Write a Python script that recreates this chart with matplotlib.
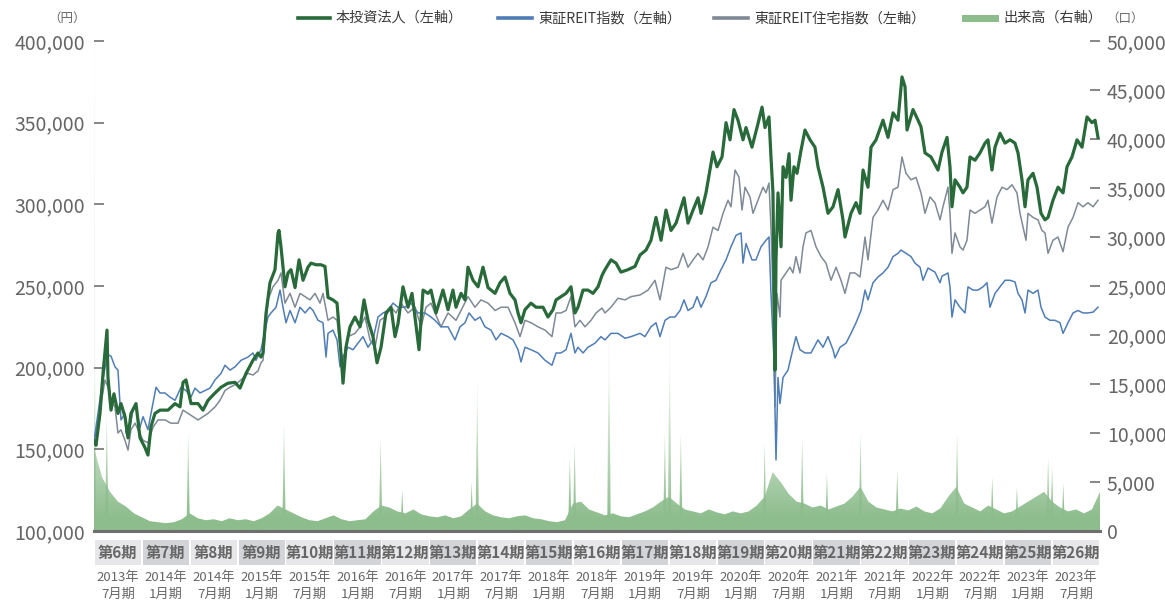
import matplotlib
matplotlib.use("Agg")
import matplotlib.pyplot as plt
import numpy as np
from matplotlib.lines import Line2D
from matplotlib.patches import Rectangle
from matplotlib.colors import to_rgb

plt.rcParams['font.family'] = ['Noto Sans CJK JP', 'DejaVu Sans']

# ---------------- data (time axis: months since Feb 2013) ----------------
fund_m = [0, 0.25, 0.75, 1.13, 1.63, 1.75, 2.13, 2.5, 3.0, 3.38,
          3.88, 4.26, 4.63, 5.26, 5.76, 6.39, 6.76, 7.14, 7.64, 8.27,
          9.27, 10.15, 10.77, 11.15, 11.52, 12.15, 13.03, 13.65, 14.28, 15.16,
          15.91, 16.78, 17.66, 18.29, 19.04, 19.91, 20.54, 20.92, 21.17, 21.54,
          22.04, 22.67, 23.05, 23.17, 23.42, 23.92, 24.3, 24.67, 25.18, 25.68,
          26.18, 26.8, 27.18, 27.81, 28.43, 28.93, 29.31, 29.93, 30.44, 30.81,
          31.19, 31.56, 32.06, 32.69, 33.32, 33.82, 34.32, 34.94, 35.45, 35.95,
          36.57, 37.2, 37.7, 38.08, 38.7, 39.33, 39.83, 40.71, 41.21, 41.83,
          42.21, 42.84, 43.71, 44.34, 44.96, 45.34, 45.97, 46.47, 46.84, 47.47,
          48.1, 48.72, 49.35, 50.23, 50.85, 51.48, 52.1, 52.73, 53.11, 53.48,
          53.98, 54.73, 55.36, 56.24, 56.86, 57.49, 57.87, 58.49, 59.12, 59.74,
          60.24, 60.62, 61.25, 61.87, 62.5, 63.13, 63.63, 64.0, 64.75, 65.38,
          66.0, 66.88, 67.76, 68.39, 69.14, 69.76, 70.39, 71.02, 71.64, 72.27,
          72.9, 73.9, 74.4, 75.03, 75.65, 76.03, 76.65, 77.15, 77.53, 78.03,
          78.66, 79.16, 79.66, 80.16, 80.66, 81.29, 81.66, 82.41, 83.04, 83.67,
          84.04, 84.54, 84.79, 85.04, 85.29, 85.42, 85.67, 86.05, 86.3, 86.67,
          87.05, 87.3, 87.67, 88.05, 88.55, 89.05, 89.68, 90.3, 90.68, 91.31,
          91.93, 92.56, 93.19, 93.81, 94.06, 94.81, 95.44, 95.94, 96.32, 96.94,
          97.32, 97.95, 98.82, 99.45, 100.08, 100.7, 101.2, 101.58, 101.83, 102.58,
          103.21, 103.58, 104.08, 104.83, 105.71, 106.21, 106.84, 107.21, 107.46, 107.84,
          108.46, 108.84, 109.34, 109.72, 110.34, 110.97, 111.6, 111.97, 112.47, 112.85,
          113.48, 114.1, 114.73, 115.35, 115.73, 116.23, 116.61, 116.98, 117.61, 118.11,
          118.61, 119.11, 119.49, 120.11, 120.74, 121.37, 121.87, 122.49, 123.12, 123.75,
          124.37, 125.0, 125.38, 125.75]
fund_price = [155000, 152500, 172000, 196500, 223000, 194000, 174000, 184000, 172000, 178000,
              170000, 157000, 172000, 178000, 157000, 151000, 146500, 164000, 172000, 174000,
              174000, 178000, 176000, 191000, 192500, 178000, 178000, 174000, 180000, 184500,
              188000, 190500, 191000, 187500, 196500, 204500, 209000, 206500, 209000, 233000,
              252000, 260000, 282500, 284000, 274000, 249500, 258000, 260000, 249000, 266000,
              253500, 261500, 264000, 263000, 263000, 262000, 243000, 241500, 239500, 217000,
              190500, 212500, 225000, 231000, 225000, 241500, 229000, 219000, 203000, 212500,
              233500, 237000, 219000, 227000, 249500, 237000, 245500, 211000, 247500, 245500,
              247500, 233500, 247500, 235500, 247500, 237000, 245500, 241500, 261500, 253500,
              249500, 261500, 249000, 245500, 252000, 255500, 245500, 241500, 233500, 227500,
              235500, 239500, 237000, 237000, 231000, 235500, 241500, 243500, 245500, 249500,
              233500, 237000, 247500, 247500, 245500, 249500, 256500, 260000, 266000, 264000,
              258500, 260000, 262000, 269000, 272000, 278000, 292000, 278000, 296500, 284000,
              288500, 304000, 288500, 296500, 304000, 294500, 307000, 321000, 332000, 323000,
              329000, 350000, 339500, 358000, 351500, 339500, 347000, 335000, 347000, 359500,
              347000, 353500, 329000, 307000, 198500, 266000, 307000, 274000, 323000, 316500,
              331000, 302500, 323000, 319000, 333000, 345500, 339500, 335000, 323000, 310500,
              294500, 298500, 309000, 290500, 280000, 294500, 301000, 294500, 321000, 310500,
              335000, 339500, 351500, 341000, 356000, 351500, 378000, 372000, 345500, 358000,
              351500, 347500, 331500, 329000, 321000, 332000, 341000, 323000, 298500, 315000,
              310500, 307000, 310500, 329000, 327000, 331500, 337500, 339500, 321000, 335000,
              343500, 337500, 339500, 337500, 331500, 315000, 298500, 315000, 319000, 310500,
              294500, 290500, 292000, 302500, 310500, 307000, 323000, 329000, 339500, 335000,
              353500, 350000, 351500, 341000]

reit_m = [0, 0.88, 1.38, 1.75, 2.13, 2.63, 3.0, 3.26, 3.38, 3.88,
          4.0, 4.51, 4.88, 5.26, 5.76, 6.14, 6.76, 7.14, 7.77, 8.27,
          8.89, 9.52, 10.15, 10.9, 11.52, 12.15, 12.65, 13.28, 13.9, 14.53,
          15.16, 15.91, 16.41, 17.03, 17.66, 18.41, 19.29, 19.91, 20.29, 20.92,
          21.17, 21.79, 22.17, 22.8, 23.3, 23.67, 24.05, 24.55, 25.18, 25.8,
          26.43, 27.05, 27.43, 28.06, 28.68, 29.06, 29.31, 29.93, 30.44, 30.81,
          31.19, 31.81, 32.44, 33.07, 33.69, 34.32, 34.94, 35.57, 36.2, 36.82,
          37.45, 38.08, 38.95, 39.7, 40.58, 41.46, 42.21, 42.71, 43.46, 44.34,
          45.21, 45.84, 46.47, 46.97, 47.72, 48.35, 48.97, 49.72, 50.35, 50.98,
          51.85, 52.48, 53.11, 53.48, 53.98, 54.73, 55.61, 56.49, 57.36, 57.87,
          58.49, 59.12, 59.74, 60.24, 60.62, 61.25, 61.87, 62.75, 63.5, 64.0,
          64.75, 65.63, 66.51, 67.26, 68.39, 69.01, 69.76, 70.39, 70.89, 71.52,
          72.14, 72.77, 73.4, 73.9, 74.4, 75.03, 75.53, 76.03, 76.65, 77.28,
          77.9, 78.53, 79.16, 79.78, 80.41, 81.04, 81.29, 81.66, 82.41, 82.91,
          83.54, 84.17, 84.54, 84.79, 85.17, 85.42, 85.67, 85.92, 86.3, 86.92,
          87.3, 87.92, 88.42, 89.05, 89.8, 90.68, 91.31, 91.93, 92.56, 92.81,
          93.44, 94.19, 94.81, 95.44, 96.07, 96.57, 96.94, 97.57, 98.19, 98.82,
          99.45, 100.08, 100.7, 101.08, 101.7, 102.33, 102.83, 103.46, 103.83, 104.46,
          105.33, 105.96, 106.21, 106.96, 107.21, 107.46, 107.84, 108.46, 109.09, 109.47,
          110.09, 110.72, 111.35, 111.85, 112.22, 112.85, 113.48, 114.1, 114.73, 115.35,
          115.73, 116.23, 116.61, 116.98, 117.61, 118.23, 118.61, 119.11, 119.74, 120.36,
          120.99, 121.37, 121.99, 122.62, 123.25, 123.87, 124.5, 125.13, 125.75]
reit_index = [155000, 185000, 200000, 208000, 207000, 200500, 198500, 178000, 168000, 172000,
              160000, 163500, 174000, 176000, 163500, 170000, 162000, 172000, 188000, 184500,
              184500, 182000, 180000, 188000, 186000, 182000, 187500, 184500, 186000, 187500,
              192500, 196500, 201500, 198500, 200500, 204500, 206500, 209000, 204500, 211000,
              217000, 231000, 233500, 237000, 247500, 237000, 227500, 235000, 227500, 237000,
              233500, 237000, 235000, 229000, 227500, 206500, 221000, 223000, 217000, 200500,
              206500, 212500, 211000, 215000, 219000, 212500, 217000, 231000, 233500, 235000,
              239500, 237000, 237000, 239500, 233500, 233500, 231000, 229000, 225000, 225000,
              217000, 225000, 227500, 233500, 229000, 231000, 225000, 223000, 217000, 221000,
              219000, 217000, 211000, 203500, 212500, 211000, 209000, 204500, 201500, 209000,
              209000, 211000, 221000, 209000, 212500, 209000, 212500, 215000, 219000, 217000,
              221000, 221000, 218000, 219000, 221000, 219000, 225000, 227500, 219000, 229000,
              231000, 231000, 235000, 241500, 235000, 237000, 243500, 237000, 243500, 252000,
              253500, 260000, 266000, 274000, 281000, 282500, 264000, 276000, 266000, 266000,
              274000, 278000, 280000, 245500, 204500, 143500, 194000, 178000, 194000, 198500,
              206500, 219000, 211000, 209000, 209000, 217000, 212500, 219000, 211000, 206000,
              212500, 215000, 221000, 227500, 235000, 247500, 241500, 252000, 255500, 258000,
              261500, 268000, 270000, 272000, 270000, 268000, 264000, 261500, 253500, 261000,
              258500, 252000, 256000, 258000, 249500, 231000, 241500, 237000, 233500, 249500,
              247500, 247500, 249500, 252000, 237000, 245500, 249500, 253500, 253500, 252500,
              245500, 241500, 233500, 247500, 245500, 247500, 237000, 231000, 229000, 229000,
              227500, 221000, 227500, 233500, 235000, 233500, 233500, 234000, 237000]

resi_m = [0, 0.88, 1.38, 1.75, 2.13, 2.63, 3.0, 3.38, 3.88, 4.26,
          4.63, 5.14, 5.51, 6.14, 6.76, 7.39, 8.02, 8.89, 9.64, 10.52,
          11.15, 11.77, 12.4, 13.03, 13.65, 14.28, 15.16, 15.78, 16.41, 17.03,
          17.66, 18.41, 19.29, 19.91, 20.54, 20.92, 21.17, 21.79, 22.42, 23.05,
          23.42, 23.92, 24.55, 25.18, 25.8, 26.43, 27.05, 27.68, 28.31, 28.68,
          29.31, 29.93, 30.44, 30.81, 31.19, 31.81, 32.69, 33.32, 33.94, 34.57,
          35.2, 35.82, 36.45, 37.2, 37.83, 38.45, 39.33, 40.21, 40.96, 41.58,
          42.21, 42.71, 43.46, 44.34, 45.34, 45.97, 46.84, 47.72, 48.47, 49.35,
          50.23, 50.98, 51.85, 52.73, 53.36, 53.98, 54.73, 55.61, 56.49, 57.36,
          57.87, 58.49, 59.12, 59.74, 60.24, 60.87, 61.5, 62.25, 62.88, 63.63,
          64.0, 64.75, 65.63, 66.51, 67.26, 68.39, 69.39, 70.26, 70.89, 71.64,
          72.27, 73.15, 73.78, 74.4, 75.03, 75.65, 76.28, 76.91, 77.53, 78.16,
          78.79, 79.41, 79.78, 80.29, 80.79, 81.16, 81.54, 82.16, 82.54, 83.17,
          83.79, 84.17, 84.54, 84.79, 85.04, 85.29, 85.54, 85.92, 86.05, 86.67,
          87.17, 87.55, 87.92, 88.42, 88.8, 89.17, 89.8, 90.43, 91.06, 91.68,
          92.31, 92.94, 93.56, 94.06, 94.69, 95.31, 95.94, 96.57, 96.94, 97.57,
          98.19, 98.82, 99.45, 100.08, 100.7, 101.2, 101.7, 102.33, 102.96, 103.58,
          104.08, 104.71, 105.33, 105.96, 106.33, 106.96, 107.21, 107.46, 107.84, 108.46,
          108.84, 109.34, 109.72, 110.34, 110.97, 111.6, 111.97, 112.47, 113.1, 113.73,
          114.35, 114.98, 115.6, 115.98, 116.36, 116.73, 116.98, 117.61, 118.23, 118.73,
          119.11, 119.49, 120.11, 120.74, 121.37, 121.99, 122.62, 123.25, 123.87, 124.5,
          125.13, 125.75]
resi_index = [155000, 178000, 192500, 188000, 180000, 176000, 160000, 162000, 155500, 149500,
              162000, 166000, 162000, 155500, 154000, 163500, 168000, 168000, 166000, 166000,
              174000, 172000, 170000, 168000, 170000, 172000, 176000, 180000, 186000, 188000,
              189500, 192500, 196500, 195500, 198000, 203000, 204500, 241500, 249500, 253500,
              258000, 239500, 245500, 237000, 245500, 243500, 241500, 245500, 239500, 245500,
              229000, 231000, 229000, 212500, 204500, 219000, 221000, 225000, 231000, 217000,
              212500, 229000, 231000, 237000, 233500, 239500, 233500, 237000, 225000, 237000,
              239500, 233500, 225000, 233500, 229000, 235000, 243500, 237000, 241500, 239500,
              235000, 237000, 237000, 227500, 219000, 229000, 227500, 225000, 223000, 219000,
              233500, 233500, 235000, 243500, 225000, 229000, 225000, 229000, 233500, 236500,
              233500, 237000, 242500, 241500, 243500, 244500, 247500, 253500, 241500, 261500,
              260000, 261500, 270000, 261500, 266000, 270000, 266000, 274000, 286000, 284000,
              294500, 302500, 298500, 321000, 316500, 296500, 310500, 304500, 294500, 302500,
              310500, 307000, 313000, 286000, 245500, 176000, 245500, 231000, 253500, 258000,
              261500, 258000, 268000, 258000, 274000, 282500, 284000, 274000, 268000, 264000,
              253500, 261500, 253500, 245500, 258000, 258000, 255500, 280000, 266000, 292000,
              296500, 302500, 296500, 309000, 310500, 329000, 319000, 315000, 316500, 307000,
              294500, 304500, 301000, 290500, 298500, 310500, 294500, 270000, 282500, 274000,
              272000, 278000, 296500, 294500, 296500, 298500, 302500, 288500, 304500, 310500,
              309000, 312000, 307000, 294500, 286000, 278000, 294500, 292000, 290500, 284000,
              282500, 270000, 278000, 280000, 271000, 286000, 292000, 301000, 298500, 301000,
              298500, 302500]

# monthly trading volume level (units), months 0..126
volume = [8500, 5500, 4000, 3000, 2500, 1800, 1400, 1000, 900, 800,
          900, 1200, 1800, 1300, 1100, 1200, 1000, 1300, 1100, 1200,
          1000, 1300, 1800, 2600, 2200, 1800, 1400, 1100, 1000, 1300,
          1600, 1200, 1000, 1100, 1200, 2000, 2600, 2400, 2000, 1800,
          2200, 1700, 1500, 1400, 1600, 1300, 1500, 2200, 2800, 2000,
          1600, 1400, 1300, 1500, 1600, 1300, 1200, 1000, 900, 1100,
          2800, 3000, 2200, 1900, 1600, 1800, 1500, 1400, 1700, 2000,
          2400, 3000, 3500, 2800, 2200, 2000, 1800, 2200, 1900, 1700,
          2000, 1800, 2000, 2600, 3500, 6000, 5000, 3800, 3000, 2800,
          2400, 2600, 2200, 2500, 2800, 3500, 4500, 3000, 2400, 2200,
          2000, 2300, 2100, 2500, 2000, 1800, 2300, 3500, 4500, 2800,
          2400, 2000, 2600, 2200, 1800, 2000, 2500, 3000, 3500, 4000,
          3000, 2400, 2000, 2200, 1800, 2200, 4000]
volume_m = list(range(len(volume)))
# single-day volume spikes
spike_m = [0.0, 1.6, 11.8, 23.8, 35.9, 38.6, 47.3, 48.0, 59.6, 60.2,
           64.5, 71.5, 72.1, 73.5, 84.0, 88.7, 91.8, 96.0, 100.6, 108.1,
           112.5, 115.6, 119.5, 120.0, 121.4]
spike_v = [60000, 12000, 10000, 11000, 9500, 4200, 5000, 16000, 7500, 9000,
           24000, 10000, 23000, 10000, 9000, 9500, 5900, 10000, 6200, 10000,
           5500, 4500, 7500, 6500, 4900]

periods = ['第%d期' % n for n in range(6, 27)]
period_year = ['2013年', '2014年', '2014年', '2015年', '2015年', '2016年', '2016年',
               '2017年', '2017年', '2018年', '2018年', '2019年', '2019年', '2020年',
               '2020年', '2021年', '2021年', '2022年', '2022年', '2023年', '2023年']
period_month = ['7月期', '1月期'] * 10 + ['7月期']

left_ticks = [100000, 150000, 200000, 250000, 300000, 350000, 400000]
right_ticks = list(range(0, 50001, 5000))

# ---------------- style ----------------
C_FUND = '#286a39'
C_REIT = '#4f7db7'
C_RESI = '#7f8a96'
C_VOL = '#8dbd8d'
C_TXT = '#666666'
C_LEG = '#3c3c3c'

W, H = 1165, 603
fig = plt.figure(figsize=(W / 100, H / 100), dpi=100)


def fx(px):
    return px / W


def fy(py):
    return 1 - py / H


ax = fig.add_axes([fx(94), fy(531), fx(1100) - fx(94), fy(41) - fy(531)])
ax2 = ax.twinx()
ax.set_zorder(2)
ax.patch.set_visible(False)
ax2.set_zorder(1)

# volume with vertical fade
rgb = to_rgb(C_VOL)
lv = np.linspace(0, 50000, 500)
img = np.zeros((500, 1, 4))
img[..., 0], img[..., 1], img[..., 2] = rgb
img[:, 0, 3] = np.clip(1.08 - lv / 16000, 0.10, 1.0)


def grad_fill(xs, ys):
    poly = ax2.fill_between(xs, 0, ys, facecolor='none', edgecolor='none')
    im = ax2.imshow(img, extent=[0, 126, 0, 50000], origin='lower', aspect='auto',
                    interpolation='bilinear', zorder=1)
    im.set_clip_path(poly.get_paths()[0], transform=ax2.transData)


grad_fill(volume_m, volume)
for m, v in zip(spike_m, spike_v):
    grad_fill([m - 0.22, m, m + 0.22], [0, v, 0])

ax.plot(resi_m, resi_index, color=C_RESI, lw=1.1, zorder=3)
ax.plot(reit_m, reit_index, color=C_REIT, lw=1.1, zorder=4)
ax.plot(fund_m, fund_price, color=C_FUND, lw=2.3, zorder=5, solid_joinstyle='round')

ax.set_xlim(0, 126)
ax.set_ylim(100000, 400000)
ax2.set_xlim(0, 126)
ax2.set_ylim(0, 50000)

for a in (ax, ax2):
    for s in a.spines.values():
        s.set_visible(False)
    a.set_xticks([])
ax.spines['bottom'].set_visible(True)
ax.spines['bottom'].set_color('#6e6e6e')
ax.spines['bottom'].set_linewidth(2.2)

ax.set_yticks(left_ticks)
ax.set_yticklabels(['{:,}'.format(v) for v in left_ticks])
ax.tick_params(axis='y', direction='in', length=7.5, width=1.1, color=C_TXT,
               labelsize=14, labelcolor=C_TXT, pad=6.5)
ax2.set_yticks(right_ticks)
ax2.set_yticklabels(['{:,}'.format(v) for v in right_ticks])
ax2.tick_params(axis='y', direction='in', length=7.5, width=1.1, color=C_TXT,
                labelsize=14, labelcolor=C_TXT, pad=5)

# period band
tr = ax.get_xaxis_transform()
y0 = (531 - 565) / 490
hb = (565 - 540) / 490
for i, name in enumerate(periods):
    col = '#e7e7e9' if i % 2 == 0 else '#d3d4d8'
    ax.add_patch(Rectangle((i * 6 + 0.1, y0), 5.8, hb, transform=tr, facecolor=col,
                           edgecolor='none', clip_on=False))
    ax.text(i * 6 + 3, y0 + hb / 2, name, transform=tr, ha='center', va='center',
            fontsize=11, fontweight='bold', color=C_TXT)
    ax.text(i * 6 + 3, (531 - 578) / 490, period_year[i], transform=tr, ha='center',
            va='center', fontsize=9.5, color=C_TXT)
    ax.text(i * 6 + 3, (531 - 594) / 490, period_month[i], transform=tr, ha='center',
            va='center', fontsize=9.5, color=C_TXT)

# legend
ly = fy(18)
for x0, x1, c, lw in [(298, 330, C_FUND, 2.6), (498, 532, C_REIT, 2.6), (714, 748, C_RESI, 2.6)]:
    fig.add_artist(Line2D([fx(x0), fx(x1)], [ly, ly], color=c, lw=lw, transform=fig.transFigure))
fig.add_artist(Rectangle((fx(962), fy(22)), fx(999) - fx(962), fy(15) - fy(22),
                         transform=fig.transFigure, facecolor=C_VOL, edgecolor='none'))
for x0, t in [(336, '本投資法人（左軸）'), (538, '東証REIT指数（左軸）'),
              (754, '東証REIT住宅指数（左軸）'), (1003, '出来高（右軸）')]:
    fig.text(fx(x0), ly, t, ha='left', va='center', fontsize=10.2, color=C_LEG)
fig.text(fx(1106), ly, '（口）', ha='left', va='center', fontsize=9, color=C_TXT)
fig.text(fx(86), ly, '（円）', ha='right', va='center', fontsize=9, color=C_TXT)

fig.savefig('out.png', dpi=100)
